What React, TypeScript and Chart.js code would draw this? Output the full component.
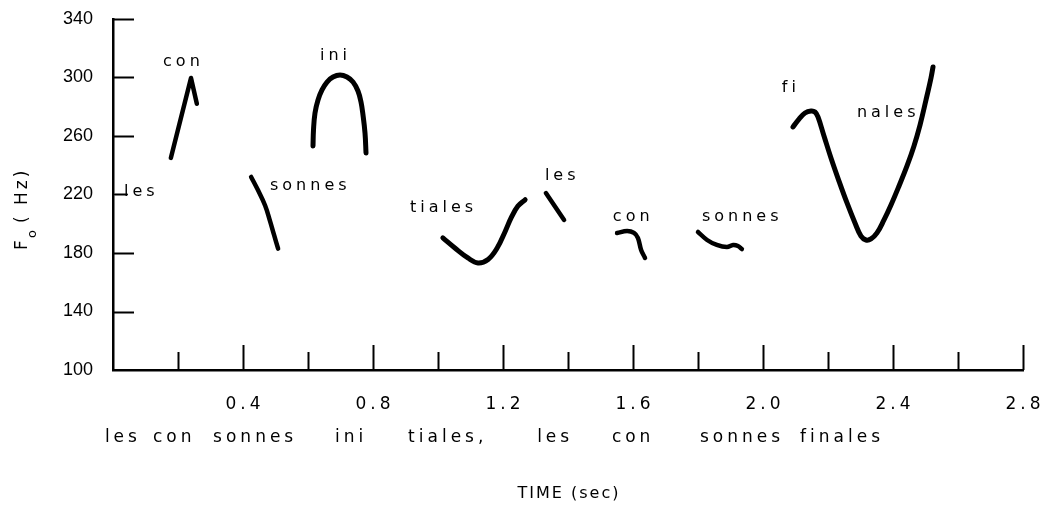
import { useEffect, useRef } from "react";
import { Chart, registerables } from "chart.js";

Chart.register(...registerables);

// Time axis (seconds) and F0 axis (Hz)
const timeTicks = [0.2, 0.4, 0.6, 0.8, 1.0, 1.2, 1.4, 1.6, 1.8, 2.0, 2.2, 2.4, 2.6, 2.8];
const hzTicks = [100, 140, 180, 220, 260, 300, 340];

// F0 contours, one per syllable: [time (s), F0 (Hz)]
const lesContour: [number, number][] = [[0.006, 220], [0.043, 220]];
const conContour: [number, number][] = [[0.178, 245], [0.24, 299.7], [0.258, 282]];
const sonnesContour: [number, number][] = [
  [0.425, 232], [0.446, 223], [0.468, 212.5], [0.483, 202], [0.496, 192], [0.508, 183],
];
const iniContour: [number, number][] = [
  [0.6154, 253.2], [0.6169, 264.1], [0.6215, 275.7], [0.6308, 284.6], [0.6431, 291.5],
  [0.6585, 296.9], [0.6769, 300.3], [0.6985, 301.7], [0.72, 300.3], [0.7385, 296.9],
  [0.7538, 290.8], [0.7631, 283.2], [0.7692, 274.4], [0.7754, 262.1], [0.7785, 248.4],
];
const tialesContour: [number, number][] = [
  [1.015, 190.3], [1.052, 183.4], [1.092, 176.6], [1.123, 173.2], [1.154, 175.6], [1.182, 183.4],
  [1.206, 194.4], [1.226, 204.5], [1.246, 212.1], [1.268, 216.4],
];
const les2Contour: [number, number][] = [[1.332, 221], [1.388, 202.6]];
const con2Contour: [number, number][] = [
  [1.551, 193.7], [1.582, 195.0], [1.603, 193.7], [1.615, 190.3], [1.625, 182.1], [1.637, 176.6],
];
const sonnes2Contour: [number, number][] = [
  [1.8, 194.4], [1.828, 188.9], [1.858, 185.5], [1.889, 184.1], [1.908, 185.5], [1.923, 184.8], [1.935, 182.7],
];
const finalesContour: [number, number][] = [
  [2.0923, 266.2], [2.1108, 271.6], [2.1292, 275.7], [2.1477, 277.1], [2.16, 276.4], [2.1692, 273.0],
  [2.1877, 260.0], [2.2092, 245.0], [2.2338, 229.2], [2.2585, 214.2], [2.2831, 200.5], [2.3015, 191.6],
  [2.3169, 188.9], [2.3323, 189.6], [2.3508, 193.7], [2.3723, 202.6], [2.3938, 212.8], [2.4185, 225.8],
  [2.4431, 239.5], [2.4646, 253.2], [2.4831, 267.5], [2.5015, 284.6], [2.5169, 299.7], [2.5231, 307.2],
];

// Syllable labels placed beside their contours: [text, time, Hz]
const syllableLabels: [string, number, number][] = [
  ["les", 0.034, 219],
  ["con", 0.154, 308],
  ["ini", 0.637, 312],
  ["sonnes", 0.483, 223],
  ["tiales", 0.914, 208],
  ["les", 1.329, 230],
  ["con", 1.538, 202],
  ["sonnes", 1.812, 202],
  ["fi", 2.058, 290],
  ["nales", 2.289, 273],
];

// The spoken phrase, word by word, under the time axis: [word, time]
const phraseWords: [string, number][] = [
  ["les", -0.025],
  ["con", 0.123],
  ["sonnes", 0.308],
  ["ini", 0.683],
  ["tiales,", 0.908],
  ["les", 1.305],
  ["con", 1.535],
  ["sonnes", 1.806],
  ["finales", 2.114],
];

const toPoints = (c: [number, number][]) => c.map(([x, y]) => ({ x, y }));

const LETTER_FONT = '"DejaVu Sans", sans-serif';

const axisDecor = {
  id: "axisDecor",
  afterDraw(chart: any) {
    const { ctx } = chart;
    const xs = chart.scales.x;
    const ys = chart.scales.y;
    ctx.save();
    ctx.strokeStyle = "#000";
    ctx.fillStyle = "#000";
    ctx.lineWidth = 2;
    ctx.lineCap = "butt";

    // inward ticks on the F0 axis
    for (const v of hzTicks) {
      if (v === 100 || v === 220) continue;
      const py = Math.round(ys.getPixelForValue(v)) + 0.5;
      ctx.beginPath();
      ctx.moveTo(xs.left, py);
      ctx.lineTo(xs.left + 21, py);
      ctx.stroke();
    }

    // upward ticks on the time axis, longer at labelled values
    for (const t of timeTicks) {
      const major = Math.round(t * 10) % 4 === 0;
      const px = Math.round(xs.getPixelForValue(t)) + 0.5;
      ctx.beginPath();
      ctx.moveTo(px, ys.bottom);
      ctx.lineTo(px, ys.bottom - (major ? 25 : 18));
      ctx.stroke();
    }

    // time tick labels
    ctx.font = `17px ${LETTER_FONT}`;
    ctx.textAlign = "center";
    ctx.textBaseline = "alphabetic";
    (ctx as any).letterSpacing = "4px";
    for (const t of timeTicks) {
      if (Math.round(t * 10) % 4 !== 0) continue;
      const px = xs.getPixelForValue(t);
      ctx.fillText(t.toFixed(1), px + 2, ys.bottom + 39);
    }

    // phrase row
    ctx.textAlign = "left";
    ctx.font = `17px ${LETTER_FONT}`;
    (ctx as any).letterSpacing = "4px";
    for (const [w, t] of phraseWords) {
      ctx.fillText(w, xs.getPixelForValue(t), ys.bottom + 72);
    }

    // syllable labels
    ctx.font = `16px ${LETTER_FONT}`;
    (ctx as any).letterSpacing = "4px";
    for (const [s, t, hz] of syllableLabels) {
      ctx.fillText(s, xs.getPixelForValue(t), ys.getPixelForValue(hz));
    }

    // x axis title
    ctx.textAlign = "center";
    ctx.font = `16px ${LETTER_FONT}`;
    (ctx as any).letterSpacing = "2px";
    ctx.fillText("TIME (sec)", (xs.left + xs.right) / 2 + 1, ys.bottom + 128);

    // y axis title: F with subscript o, then (Hz)
    ctx.translate(27, ys.getPixelForValue(182));
    ctx.rotate(-Math.PI / 2);
    ctx.textAlign = "left";
    (ctx as any).letterSpacing = "0px";
    ctx.font = `17px ${LETTER_FONT}`;
    ctx.fillText("F", 0, 0);
    ctx.font = `13px ${LETTER_FONT}`;
    ctx.fillText("o", 12, 9);
    ctx.font = `17px ${LETTER_FONT}`;
    (ctx as any).letterSpacing = "3px";
    ctx.fillText("( Hz)", 27, 0);
    ctx.restore();
  },
};

export default function App() {
  const canvasRef = useRef<HTMLCanvasElement | null>(null);

  useEffect(() => {
    if (!canvasRef.current) return;
    const contours = [
      { data: lesContour, width: 2, tension: 0 },
      { data: conContour, width: 4.5, tension: 0 },
      { data: sonnesContour, width: 4.5, tension: 0.4 },
      { data: iniContour, width: 5, tension: 0.4 },
      { data: tialesContour, width: 5, tension: 0.4 },
      { data: les2Contour, width: 4.5, tension: 0 },
      { data: con2Contour, width: 4.5, tension: 0.4 },
      { data: sonnes2Contour, width: 4.5, tension: 0.4 },
      { data: finalesContour, width: 5, tension: 0.4 },
    ];
    const chart = new Chart(canvasRef.current, {
      type: "line",
      data: {
        datasets: contours.map((c) => ({
          data: toPoints(c.data),
          borderColor: "#000",
          borderWidth: c.width,
          tension: c.tension,
          borderCapStyle: "round",
          borderJoinStyle: "round",
          pointRadius: 0,
          fill: false,
        })) as any,
      },
      options: {
        animation: false,
        responsive: false,
        devicePixelRatio: 1,
        layout: { padding: { left: 0, top: 19, right: 21, bottom: 0 } },
        plugins: { legend: { display: false }, tooltip: { enabled: false }, title: { display: false } },
        scales: {
          x: {
            type: "linear",
            min: 0,
            max: 2.8,
            grid: { display: false, drawTicks: false },
            border: { display: true, color: "#000", width: 2.5 },
            ticks: { display: false },
            afterFit: (s: any) => {
              s.height = 136;
            },
          },
          y: {
            type: "linear",
            min: 100,
            max: 340,
            grid: {
              display: true,
              drawOnChartArea: false,
              drawTicks: true,
              tickLength: 20,
              color: "rgba(0,0,0,0)",
              tickColor: "rgba(0,0,0,0)",
            },
            border: { display: true, color: "#000", width: 2.5 },
            ticks: {
              stepSize: 40,
              padding: 0,
              color: "#000",
              font: { family: '"Liberation Sans", sans-serif', size: 18 },
            },
            afterFit: (s: any) => {
              s.width = 113;
            },
          },
        },
      },
      plugins: [axisDecor],
    });
    return () => chart.destroy();
  }, []);

  return (
    <div style={{ position: "fixed", left: 0, top: 0, width: 1044, height: 506, background: "#fff" }}>
      <canvas ref={canvasRef} width={1044} height={506} style={{ display: "block" }} />
    </div>
  );
}
